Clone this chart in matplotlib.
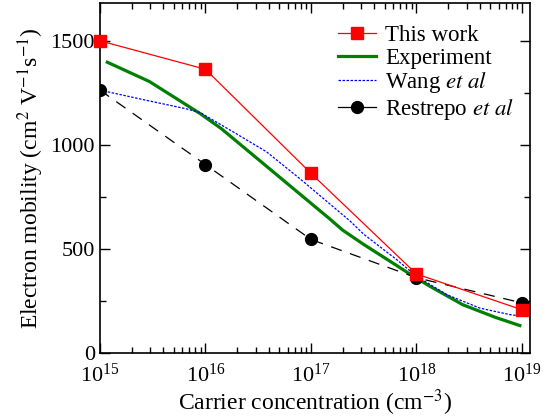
import numpy as np
import matplotlib
matplotlib.use('Agg')
import matplotlib.pyplot as plt
from matplotlib.ticker import MultipleLocator, LogLocator, LogFormatterSciNotation, NullFormatter
from matplotlib.lines import Line2D

plt.rcParams['font.family'] = ['Liberation Serif', 'DejaVu Serif']
plt.rcParams['mathtext.fontset'] = 'stix'

# this work (calculated)
conc_pts = [1e15, 1e16, 1e17, 1e18, 1e19]
this_work = [1500, 1363, 863, 379, 207]
restrepo = [1263, 905, 545, 361, 240]

# experiment (log10 of concentration)
exp_logn = [15.07, 15.47, 15.95, 16.15, 17.18, 17.30, 17.50, 17.75, 17.97, 18.13, 18.44,
            18.75, 18.98]
exp_mu = [1397, 1304, 1150, 1078, 643, 590, 521, 440, 368, 319, 231, 170, 131]

# Wang et al
wang_logn = [15.0, 15.43, 15.81, 15.95, 16.26, 16.58, 16.90, 17.37, 17.50, 17.81, 18.0,
             18.29, 18.60, 18.89, 18.98]
wang_mu = [1263, 1215, 1174, 1155, 1063, 966, 835, 634, 570, 449, 368, 279, 215, 183, 178]

fig = plt.figure(figsize=(5.43, 4.19), dpi=100)
ax = fig.add_axes([0.184, 0.158, 0.792, 0.834])

ax.plot(np.power(10.0, exp_logn), exp_mu, color='#008000', lw=2.3, zorder=2)
ax.plot(np.power(10.0, wang_logn), wang_mu, color='blue', lw=0.9, ls=(0, (2, 1.2)), zorder=3)
ax.plot(conc_pts, restrepo, color='black', lw=0.9, ls=(0, (9, 7)), marker='o',
        ms=8.5, zorder=4)
ax.plot(conc_pts, this_work, color='red', lw=0.9, marker='s', ms=9.2, zorder=5,
        clip_on=False)

ax.set_xscale('log')
ax.set_xlim(1e15, 10 ** 19.076)
ax.set_ylim(0, 1680)

ax.xaxis.set_major_locator(LogLocator(base=10, numticks=10))
ax.xaxis.set_minor_locator(LogLocator(base=10, subs=np.arange(2, 10), numticks=20))
ax.xaxis.set_major_formatter(LogFormatterSciNotation())
ax.xaxis.set_minor_formatter(NullFormatter())
ax.yaxis.set_major_locator(MultipleLocator(500))
ax.yaxis.set_minor_locator(MultipleLocator(250))

ax.tick_params(which='both', direction='in', top=True, right=True, labelsize=16, width=1.0)
ax.tick_params(which='major', length=7)
ax.tick_params(which='minor', length=4)
ax.tick_params(axis='x', pad=8)
for s in ax.spines.values():
    s.set_linewidth(1.2)

ax.set_xlabel('Carrier concentration (cm$^{-3}$)', fontsize=17, labelpad=0)
ax.set_ylabel('Electron mobility (cm$^{2}$ V$^{-1}$s$^{-1}$)', fontsize=17, labelpad=3)

handles = [
    Line2D([], [], color='red', lw=0.9, marker='s', ms=9.2),
    Line2D([], [], color='#008000', lw=2.3),
    Line2D([], [], color='blue', lw=0.9, ls=(0, (2, 1.2))),
    Line2D([], [], color='black', lw=0.9, marker='o', ms=8.5),
]
labels = ['This work', 'Experiment', 'Wang $\\it{et\\ al}$', 'Restrepo $\\it{et\\ al}$']
ax.legend(handles, labels, loc='upper right', frameon=False, fontsize=16.5,
          handlelength=1.65, handletextpad=0.4, labelspacing=0.08,
          borderaxespad=0.3, bbox_to_anchor=(1.0, 0.985))

fig.savefig('out.png', dpi=100)
